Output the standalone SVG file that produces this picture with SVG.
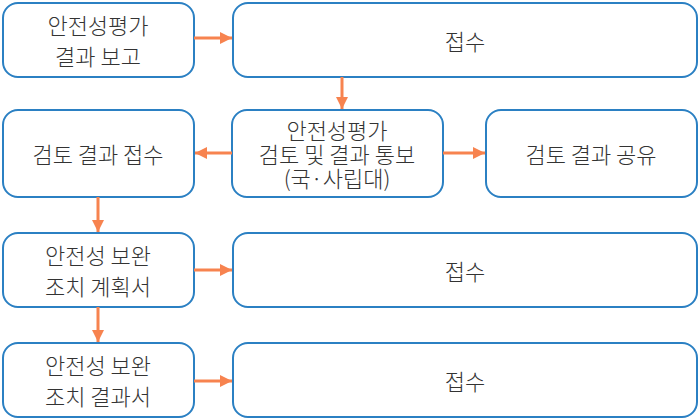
<svg xmlns="http://www.w3.org/2000/svg" width="700" height="420" viewBox="0 0 700 420">
<defs>
<marker id="ah" markerWidth="12" markerHeight="12" refX="12" refY="6" orient="auto" markerUnits="userSpaceOnUse">
<path d="M0,0 L12,6 L0,12 Z" fill="#F7834F"/>
</marker>
<style>
.box{fill:#fff;stroke:#2B80C3;stroke-width:2}
.t{font-family:"Noto Sans CJK KR","Noto Sans",sans-serif;font-size:22px;font-weight:300;fill:#333;text-anchor:middle;dominant-baseline:central}
.c{stroke:#F7834F;stroke-width:3;fill:none;marker-end:url(#ah)}
</style>
</defs>
<rect width="700" height="420" fill="#fff"/>
<g id="n1"><rect class="box" x="3" y="3" width="191" height="74" rx="15"/><text class="t" x="98" y="24">안전성평가</text><text class="t" x="98" y="55">결과 보고</text></g>
<g id="n2"><rect class="box" x="233" y="3" width="464" height="74" rx="15"/><text class="t" x="465" y="40">접수</text></g>
<g id="n3"><rect class="box" x="3" y="110" width="191" height="87" rx="15"/><text class="t" x="98" y="153">검토 결과 접수</text></g>
<g id="n4"><rect class="box" x="232" y="110" width="211" height="87" rx="15"/><text class="t" x="337" y="129">안전성평가</text><text class="t" x="337" y="153">검토 및 결과 통보</text><text class="t" x="337" y="177">(국·사립대)</text></g>
<g id="n5"><rect class="box" x="486" y="110" width="211" height="87" rx="15"/><text class="t" x="591" y="153">검토 결과 공유</text></g>
<g id="n6"><rect class="box" x="3" y="233" width="191" height="74" rx="15"/><text class="t" x="98" y="254">안전성 보완</text><text class="t" x="98" y="285">조치 계획서</text></g>
<g id="n7"><rect class="box" x="233" y="233" width="464" height="74" rx="15"/><text class="t" x="465" y="270">접수</text></g>
<g id="n8"><rect class="box" x="3" y="343" width="191" height="74" rx="15"/><text class="t" x="98" y="364">안전성 보완</text><text class="t" x="98" y="395">조치 결과서</text></g>
<g id="n9"><rect class="box" x="233" y="343" width="464" height="74" rx="15"/><text class="t" x="465" y="380">접수</text></g>
<g id="connectors">
<line class="c" x1="194" y1="38" x2="232" y2="38"/>
<line class="c" x1="342" y1="77" x2="342" y2="109"/>
<line class="c" x1="232" y1="153" x2="195" y2="153"/>
<line class="c" x1="443" y1="153" x2="485" y2="153"/>
<line class="c" x1="98" y1="197" x2="98" y2="232"/>
<line class="c" x1="194" y1="270" x2="232" y2="270"/>
<line class="c" x1="98" y1="307" x2="98" y2="342"/>
<line class="c" x1="194" y1="381" x2="232" y2="381"/>
</g>
</svg>
